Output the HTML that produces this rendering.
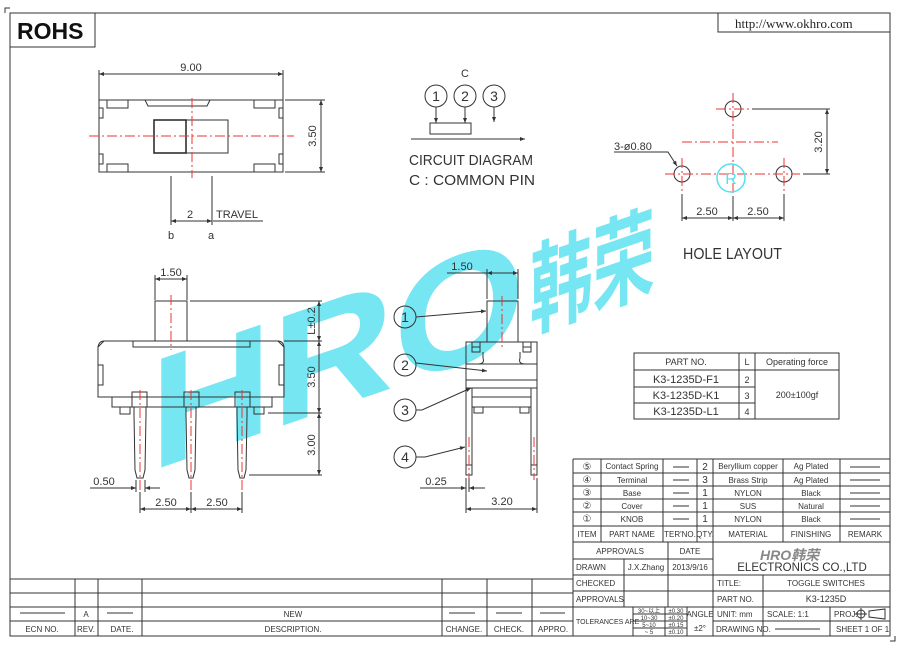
<!DOCTYPE html>
<html><head><meta charset="utf-8"><style>
html,body{margin:0;padding:0;background:#fff;}
svg{display:block;}
text{font-family:"Liberation Sans Narrow","Liberation Sans",sans-serif;fill:#333;}
.l{stroke:#333;stroke-width:1;fill:none;}
.r{stroke:#e33;stroke-width:1;fill:none;stroke-dasharray:10 3 2 3;}
.t{font-size:11px;}
.s{font-size:8px;}
</style></head><body>
<svg width="900" height="646" viewBox="0 0 900 646" xmlns="http://www.w3.org/2000/svg">
<defs>
<marker id="a" viewBox="0 0 10 10" refX="10" refY="5" markerWidth="7" markerHeight="5" orient="auto-start-reverse"><path d="M0,1 L10,5 L0,9 z" fill="#333"/></marker>
</defs>
<!-- watermark -->
<g transform="skewY(-19)" opacity="0.85">
<text x="150" y="523" style="font-family:'Liberation Sans',sans-serif;font-weight:bold;font-size:158px;fill:#5fe2f1" textLength="375" lengthAdjust="spacingAndGlyphs">HRO</text>
<text x="530" y="512" style="font-family:'Liberation Sans','Noto Sans CJK SC',sans-serif;font-weight:bold;font-size:100px;fill:#5fe2f1" textLength="125" lengthAdjust="spacingAndGlyphs">韩荣</text>
</g>
<!-- border -->
<rect x="10" y="13" width="880" height="623" class="l"/>
<path d="M5,13 V8 H10" class="l"/><path d="M890,641 H895 V636" class="l"/>
<rect x="10" y="13" width="85" height="34" class="l"/>
<text x="17" y="39" style="font-family:'Liberation Sans',sans-serif;font-weight:bold;font-size:23px;fill:#111">ROHS</text>
<rect x="718" y="13" width="172" height="19" class="l"/>
<text x="735" y="28" style="font-family:'Liberation Serif',serif;font-size:13px;fill:#222">http://www.okhro.com</text>

<!-- top view -->
<rect x="99" y="100" width="184" height="72" class="l"/>
<rect x="107" y="100" width="21" height="8" class="l"/><rect x="254" y="100" width="21" height="8" class="l"/>
<rect x="107" y="164" width="21" height="8" class="l"/><rect x="254" y="164" width="21" height="8" class="l"/>
<rect x="99" y="108" width="4" height="10" class="l"/><rect x="279" y="108" width="4" height="10" class="l"/>
<rect x="99" y="154" width="4" height="10" class="l"/><rect x="279" y="154" width="4" height="10" class="l"/>
<path d="M145,100 L148,106 H207 L210,100" class="l"/>
<rect x="154" y="120" width="74" height="33" class="l"/>
<rect x="154" y="120" width="32" height="33" style="stroke:#222;stroke-width:1.5;fill:none"/>
<line x1="89" y1="136" x2="294" y2="136" class="r"/>
<line x1="192" y1="98" x2="192" y2="178" class="r"/>
<line x1="99" y1="100" x2="99" y2="70" class="l"/><line x1="283" y1="100" x2="283" y2="70" class="l"/>
<line x1="99" y1="74" x2="283" y2="74" class="l" marker-start="url(#a)" marker-end="url(#a)"/>
<text x="191" y="71" class="t" text-anchor="middle">9.00</text>
<line x1="285" y1="100" x2="325" y2="100" class="l"/><line x1="285" y1="172" x2="325" y2="172" class="l"/>
<line x1="321" y1="100" x2="321" y2="172" class="l" marker-start="url(#a)" marker-end="url(#a)"/>
<text transform="translate(316,136) rotate(-90)" class="t" text-anchor="middle">3.50</text>
<line x1="171" y1="176" x2="171" y2="225" class="l"/><line x1="212" y1="176" x2="212" y2="225" class="l"/>
<line x1="171" y1="221" x2="212" y2="221" class="l" marker-start="url(#a)" marker-end="url(#a)"/>
<text x="190" y="218" class="t" text-anchor="middle">2</text>
<text x="216" y="218" class="t">TRAVEL</text><line x1="213" y1="221" x2="263" y2="221" class="l"/>
<text x="171" y="239" class="t" text-anchor="middle">b</text><text x="211" y="239" class="t" text-anchor="middle">a</text>

<!-- circuit -->
<text x="465" y="77" class="t" text-anchor="middle">C</text>
<circle cx="436" cy="96" r="11" class="l"/><circle cx="465" cy="96" r="11" class="l"/><circle cx="494" cy="96" r="11" class="l"/>
<text x="436" y="101" style="font-size:14px" text-anchor="middle">1</text>
<text x="465" y="101" style="font-size:14px" text-anchor="middle">2</text>
<text x="494" y="101" style="font-size:14px" text-anchor="middle">3</text>
<line x1="436" y1="107" x2="436" y2="123" class="l" marker-end="url(#a)"/>
<line x1="465" y1="107" x2="465" y2="123" class="l" marker-end="url(#a)"/>
<line x1="494" y1="107" x2="494" y2="122" class="l" marker-end="url(#a)"/>
<rect x="430" y="123" width="41" height="11" class="l"/>
<line x1="411" y1="139" x2="525" y2="139" class="l" marker-end="url(#a)"/>
<text x="409" y="165" style="font-size:15px" textLength="124" lengthAdjust="spacingAndGlyphs">CIRCUIT  DIAGRAM</text>
<text x="409" y="185" style="font-size:15px" textLength="126" lengthAdjust="spacingAndGlyphs">C : COMMON  PIN</text>

<!-- hole layout -->
<circle cx="733" cy="109" r="8" class="l"/><circle cx="682" cy="174" r="8" class="l"/><circle cx="784" cy="174" r="8" class="l"/>
<line x1="716" y1="109" x2="750" y2="109" class="r"/>
<line x1="733" y1="93" x2="733" y2="196" class="r"/>
<line x1="682" y1="142" x2="778" y2="142" class="r"/>
<line x1="665" y1="174" x2="800" y2="174" class="r"/>
<line x1="682" y1="158" x2="682" y2="192" class="r"/><line x1="784" y1="158" x2="784" y2="192" class="r"/>
<circle cx="731" cy="178" r="14" style="stroke:#55dff0;stroke-width:1.5;fill:none"/>
<text x="731" y="184" style="font-size:16px;fill:#55dff0" text-anchor="middle">R</text>
<line x1="752" y1="109" x2="830" y2="109" class="l"/><line x1="803" y1="174" x2="830" y2="174" class="l"/>
<line x1="827" y1="109" x2="827" y2="174" class="l" marker-start="url(#a)" marker-end="url(#a)"/>
<text transform="translate(822,142) rotate(-90)" class="t" text-anchor="middle">3.20</text>
<line x1="682" y1="194" x2="682" y2="221" class="l"/><line x1="733" y1="196" x2="733" y2="221" class="l"/><line x1="784" y1="194" x2="784" y2="221" class="l"/>
<line x1="682" y1="218" x2="733" y2="218" class="l" marker-start="url(#a)" marker-end="url(#a)"/>
<line x1="733" y1="218" x2="784" y2="218" class="l" marker-start="url(#a)" marker-end="url(#a)"/>
<text x="707" y="215" class="t" text-anchor="middle">2.50</text><text x="758" y="215" class="t" text-anchor="middle">2.50</text>
<text x="614" y="150" class="t">3-ø0.80</text>
<path d="M614,152 H668 L677,166" class="l" marker-end="url(#a)"/>
<text x="683" y="259" style="font-size:16px" textLength="99" lengthAdjust="spacingAndGlyphs">HOLE  LAYOUT</text>

<!-- side view -->
<rect x="155" y="301" width="32" height="40" class="l"/>
<path d="M104,341 H278 L284,347 V397 H98 V347 Z" class="l"/>
<path d="M104,341 Q99,341 98,347" class="l"/><path d="M278,341 Q283,341 284,347" class="l"/>
<rect x="98" y="365" width="5" height="20" class="l"/><rect x="279" y="365" width="5" height="20" class="l"/>
<path d="M133,341 V347 H250 V341" class="l"/>
<rect x="112" y="397" width="160" height="10" class="l"/>
<rect x="120" y="407" width="10" height="7" class="l"/><rect x="254" y="407" width="10" height="7" class="l"/>
<rect x="132" y="392" width="15" height="15" class="l"/><rect x="184" y="392" width="15" height="15" class="l"/><rect x="235" y="392" width="15" height="15" class="l"/>
<path d="M134,407 V415 L135,470 L137,478 H143 L145,470 L146,415 V407" class="l"/>
<path d="M186,407 V415 L187,470 L189,478 H193 L195,470 L196,415 V407" class="l"/>
<path d="M237,407 V415 L238,470 L240,478 H244 L246,470 L247,415 V407" class="l"/>
<line x1="171" y1="295" x2="171" y2="350" class="r"/>
<line x1="140" y1="390" x2="140" y2="490" class="r"/><line x1="191" y1="390" x2="191" y2="490" class="r"/><line x1="242" y1="390" x2="242" y2="490" class="r"/>
<line x1="155" y1="300" x2="155" y2="275" class="l"/><line x1="187" y1="300" x2="187" y2="275" class="l"/>
<line x1="155" y1="279" x2="187" y2="279" class="l" marker-start="url(#a)" marker-end="url(#a)"/>
<text x="171" y="276" class="t" text-anchor="middle">1.50</text>
<line x1="190" y1="301" x2="322" y2="301" class="l"/><line x1="284" y1="341" x2="322" y2="341" class="l"/>
<line x1="268" y1="413" x2="322" y2="413" class="l"/><line x1="249" y1="475" x2="322" y2="475" class="l"/>
<line x1="319" y1="301" x2="319" y2="341" class="l" marker-start="url(#a)" marker-end="url(#a)"/>
<line x1="319" y1="341" x2="319" y2="413" class="l" marker-start="url(#a)" marker-end="url(#a)"/>
<line x1="319" y1="413" x2="319" y2="475" class="l" marker-start="url(#a)" marker-end="url(#a)"/>
<text transform="translate(315,321) rotate(-90)" class="t" text-anchor="middle">L±0.2</text>
<text transform="translate(315,377) rotate(-90)" class="t" text-anchor="middle">3.50</text>
<text transform="translate(315,445) rotate(-90)" class="t" text-anchor="middle">3.00</text>
<line x1="136" y1="480" x2="136" y2="492" class="l"/><line x1="145" y1="480" x2="145" y2="492" class="l"/>
<line x1="90" y1="488" x2="136" y2="488" class="l" marker-end="url(#a)"/>
<line x1="160" y1="488" x2="145" y2="488" class="l" marker-end="url(#a)"/>
<text x="104" y="485" class="t" text-anchor="middle">0.50</text>
<line x1="140" y1="492" x2="140" y2="513" class="l"/><line x1="191" y1="492" x2="191" y2="513" class="l"/><line x1="242" y1="492" x2="242" y2="513" class="l"/>
<line x1="140" y1="509" x2="191" y2="509" class="l" marker-start="url(#a)" marker-end="url(#a)"/>
<line x1="191" y1="509" x2="242" y2="509" class="l" marker-start="url(#a)" marker-end="url(#a)"/>
<text x="166" y="506" class="t" text-anchor="middle">2.50</text><text x="217" y="506" class="t" text-anchor="middle">2.50</text>

<!-- front view -->
<rect x="487" y="301" width="31" height="41" class="l"/>
<rect x="466" y="342" width="71" height="46" class="l"/>
<rect x="466" y="364" width="71" height="16" class="l"/>
<path d="M472,342 V352 H480 V342 M472,347 H480" class="l"/>
<path d="M531,342 V352 H523 V342 M523,347 H531" class="l"/>
<path d="M483,352 V358 Q485,364 478,364" class="l"/><path d="M520,352 V358 Q518,364 525,364" class="l"/>
<rect x="472" y="388" width="59" height="19" class="l"/>
<line x1="472" y1="397" x2="531" y2="397" class="l"/>
<rect x="474" y="407" width="9" height="6" class="l"/><rect x="520" y="407" width="9" height="6" class="l"/>
<path d="M466,388 V475 H472 V388" class="l"/><path d="M531,388 V475 H537 V388" class="l"/>
<line x1="466" y1="465" x2="472" y2="465" class="l"/><line x1="531" y1="465" x2="537" y2="465" class="l"/>
<line x1="502" y1="296" x2="502" y2="350" class="r"/>
<line x1="469" y1="437" x2="469" y2="480" class="r"/><line x1="534" y1="437" x2="534" y2="480" class="r"/>
<line x1="487" y1="299" x2="487" y2="269" class="l"/><line x1="518" y1="299" x2="518" y2="269" class="l"/>
<line x1="447" y1="273" x2="487" y2="273" class="l"/>
<line x1="487" y1="273" x2="518" y2="273" class="l" marker-start="url(#a)" marker-end="url(#a)"/>
<text x="462" y="270" class="t" text-anchor="middle">1.50</text>
<circle cx="405" cy="317" r="11" class="l"/><circle cx="405" cy="365" r="11" class="l"/><circle cx="405" cy="410" r="11" class="l"/><circle cx="405" cy="457" r="11" class="l"/>
<text x="405" y="322" style="font-size:14px" text-anchor="middle">1</text>
<text x="405" y="370" style="font-size:14px" text-anchor="middle">2</text>
<text x="405" y="415" style="font-size:14px" text-anchor="middle">3</text>
<text x="405" y="462" style="font-size:14px" text-anchor="middle">4</text>
<line x1="416" y1="317" x2="486" y2="311" class="l" marker-end="url(#a)"/>
<line x1="416" y1="363" x2="487" y2="371" class="l" marker-end="url(#a)"/>
<path d="M416,410 H422 L471,388" class="l" marker-end="url(#a)"/>
<path d="M416,457 H425 L465,447" class="l" marker-end="url(#a)"/>
<line x1="466" y1="478" x2="466" y2="513" class="l"/><line x1="469" y1="478" x2="469" y2="492" class="l"/><line x1="537" y1="478" x2="537" y2="513" class="l"/>
<line x1="420" y1="488" x2="466" y2="488" class="l" marker-end="url(#a)"/>
<line x1="485" y1="488" x2="469" y2="488" class="l" marker-end="url(#a)"/>
<text x="436" y="485" class="t" text-anchor="middle">0.25</text>
<line x1="466" y1="509" x2="537" y2="509" class="l" marker-start="url(#a)" marker-end="url(#a)"/>
<text x="502" y="505" class="t" text-anchor="middle">3.20</text>

<!-- part table -->
<rect x="634" y="353" width="205" height="66" class="l"/>
<line x1="739" y1="353" x2="739" y2="419" class="l"/><line x1="755" y1="353" x2="755" y2="419" class="l"/>
<line x1="634" y1="370" x2="839" y2="370" class="l"/><line x1="634" y1="387" x2="755" y2="387" class="l"/><line x1="634" y1="403" x2="755" y2="403" class="l"/>
<text x="686" y="365" style="font-size:9px" text-anchor="middle">PART  NO.</text>
<text x="747" y="365" style="font-size:9px" text-anchor="middle">L</text>
<text x="797" y="365" style="font-size:9px" text-anchor="middle">Operating force</text>
<text x="686" y="383" class="t" text-anchor="middle">K3-1235D-F1</text><text x="747" y="383" style="font-size:9px" text-anchor="middle">2</text>
<text x="686" y="399" class="t" text-anchor="middle">K3-1235D-K1</text><text x="747" y="399" style="font-size:9px" text-anchor="middle">3</text>
<text x="686" y="415" class="t" text-anchor="middle">K3-1235D-L1</text><text x="747" y="415" style="font-size:9px" text-anchor="middle">4</text>
<text x="797" y="398" style="font-size:9px" text-anchor="middle">200±100gf</text>

<!-- BOM -->
<g class="l">
<line x1="573" y1="459" x2="890" y2="459"/><line x1="573" y1="473" x2="890" y2="473"/><line x1="573" y1="486" x2="890" y2="486"/>
<line x1="573" y1="499" x2="890" y2="499"/><line x1="573" y1="512" x2="890" y2="512"/><line x1="573" y1="526" x2="890" y2="526"/>
<line x1="573" y1="542" x2="890" y2="542"/>
<line x1="573" y1="459" x2="573" y2="636"/>
<line x1="601" y1="459" x2="601" y2="542"/><line x1="663" y1="459" x2="663" y2="542"/><line x1="697" y1="459" x2="697" y2="542"/>
<line x1="713" y1="459" x2="713" y2="636"/><line x1="783" y1="459" x2="783" y2="542"/><line x1="840" y1="459" x2="840" y2="542"/>
</g>
<g style="font-size:8px" text-anchor="middle">
<text x="587" y="470" style="font-family:'DejaVu Sans',sans-serif;font-size:10px">⑤</text>
<text x="587" y="483" style="font-family:'DejaVu Sans',sans-serif;font-size:10px">④</text>
<text x="587" y="496" style="font-family:'DejaVu Sans',sans-serif;font-size:10px">③</text>
<text x="587" y="509" style="font-family:'DejaVu Sans',sans-serif;font-size:10px">②</text>
<text x="587" y="522" style="font-family:'DejaVu Sans',sans-serif;font-size:10px">①</text>
<text x="587" y="537">ITEM</text>
<text x="632" y="469">Contact Spring</text><text x="632" y="483">Terminal</text><text x="632" y="496">Base</text><text x="632" y="509">Cover</text><text x="632" y="522">KNOB</text><text x="632" y="537">PART NAME</text>
<text x="680" y="537">TER'NO.</text>
<text x="705" y="470" style="font-size:10px">2</text><text x="705" y="483" style="font-size:10px">3</text><text x="705" y="496" style="font-size:10px">1</text><text x="705" y="509" style="font-size:10px">1</text><text x="705" y="522" style="font-size:10px">1</text><text x="705" y="537">QTY.</text>
<text x="748" y="469">Beryllium copper</text><text x="748" y="483">Brass Strip</text><text x="748" y="496">NYLON</text><text x="748" y="509">SUS</text><text x="748" y="522">NYLON</text><text x="748" y="537">MATERIAL</text>
<text x="811" y="469">Ag Plated</text><text x="811" y="483">Ag Plated</text><text x="811" y="496">Black</text><text x="811" y="509">Natural</text><text x="811" y="522">Black</text><text x="811" y="537">FINISHING</text>
<text x="865" y="537">REMARK</text>
</g>
<g class="l">
<line x1="673" y1="467" x2="689" y2="467"/><line x1="673" y1="480" x2="689" y2="480"/><line x1="673" y1="493" x2="689" y2="493"/><line x1="673" y1="506" x2="689" y2="506"/><line x1="673" y1="519" x2="689" y2="519"/>
<line x1="850" y1="467" x2="880" y2="467"/><line x1="850" y1="480" x2="880" y2="480"/><line x1="850" y1="493" x2="880" y2="493"/><line x1="850" y1="506" x2="880" y2="506"/><line x1="850" y1="519" x2="880" y2="519"/>
</g>

<!-- title block -->
<g class="l">
<line x1="573" y1="559" x2="713" y2="559"/><line x1="573" y1="575" x2="890" y2="575"/><line x1="573" y1="591" x2="890" y2="591"/><line x1="573" y1="607" x2="890" y2="607"/>
<line x1="713" y1="621" x2="890" y2="621"/>
<line x1="668" y1="542" x2="668" y2="607"/><line x1="624" y1="559" x2="624" y2="607"/>
<line x1="763" y1="575" x2="763" y2="636"/><line x1="830" y1="607" x2="830" y2="636"/>
<line x1="633" y1="607" x2="633" y2="636"/><line x1="665" y1="607" x2="665" y2="636"/><line x1="687" y1="607" x2="687" y2="636"/>
<line x1="633" y1="614" x2="687" y2="614"/><line x1="633" y1="621" x2="687" y2="621"/><line x1="633" y1="628" x2="687" y2="628"/>
<line x1="775" y1="629" x2="820" y2="629"/>
</g>
<g style="font-size:8px">
<text x="620" y="554" text-anchor="middle">APPROVALS</text><text x="690" y="554" text-anchor="middle">DATE</text>
<text x="576" y="570">DRAWN</text><text x="646" y="570" text-anchor="middle">J.X.Zhang</text><text x="690" y="570" text-anchor="middle">2013/9/16</text>
<text x="576" y="586">CHECKED</text><text x="576" y="602">APPROVALS</text>
<text x="576" y="624" style="font-size:7px">TOLERANCES  ARE</text>
<text x="649" y="613" style="font-size:6px" text-anchor="middle">30~以上</text><text x="676" y="613" style="font-size:6px" text-anchor="middle">±0.30</text>
<text x="649" y="620" style="font-size:6px" text-anchor="middle">10~30</text><text x="676" y="620" style="font-size:6px" text-anchor="middle">±0.20</text>
<text x="649" y="627" style="font-size:6px" text-anchor="middle">5~10</text><text x="676" y="627" style="font-size:6px" text-anchor="middle">±0.15</text>
<text x="649" y="634" style="font-size:6px" text-anchor="middle">~ 5</text><text x="676" y="634" style="font-size:6px" text-anchor="middle">±0.10</text>
<text x="700" y="617" text-anchor="middle">ANGLE</text><text x="700" y="631" text-anchor="middle">±2°</text>
<text x="717" y="586">TITLE:</text><text x="826" y="586" text-anchor="middle">TOGGLE  SWITCHES</text>
<text x="717" y="602">PART  NO.</text><text x="826" y="602" text-anchor="middle" style="font-size:9px">K3-1235D</text>
<text x="717" y="617">UNIT:  mm</text><text x="767" y="617">SCALE:   1:1</text><text x="834" y="617">PROJ:</text>
<text x="716" y="632">DRAWING  NO.</text><text x="836" y="632">SHEET   1  OF  1</text>
</g>
<circle cx="861" cy="614" r="4" class="l"/><line x1="855" y1="614" x2="867" y2="614" class="l"/><line x1="861" y1="608" x2="861" y2="620" class="l"/>
<path d="M869,611 L885,609 V619 L869,617 Z" class="l"/>
<text x="760" y="560" style="font-family:'Liberation Sans','Noto Sans CJK SC',sans-serif;font-style:italic;font-weight:bold;font-size:14px;fill:#888">HRO韩荣</text>
<text x="802" y="571" style="font-size:11.5px" text-anchor="middle">ELECTRONICS  CO.,LTD</text>

<!-- revision table -->
<g class="l">
<line x1="10" y1="579" x2="573" y2="579"/><line x1="10" y1="593" x2="573" y2="593"/><line x1="10" y1="607" x2="573" y2="607"/><line x1="10" y1="621" x2="573" y2="621"/>
<line x1="75" y1="579" x2="75" y2="636"/><line x1="98" y1="579" x2="98" y2="636"/><line x1="142" y1="579" x2="142" y2="636"/>
<line x1="442" y1="579" x2="442" y2="636"/><line x1="487" y1="579" x2="487" y2="636"/><line x1="532" y1="579" x2="532" y2="636"/>
<line x1="20" y1="613" x2="65" y2="613"/><line x1="107" y1="613" x2="133" y2="613"/>
<line x1="449" y1="613" x2="475" y2="613"/><line x1="496" y1="613" x2="522" y2="613"/><line x1="540" y1="613" x2="565" y2="613"/>
</g>
<g style="font-size:8px" text-anchor="middle">
<text x="86" y="617">A</text><text x="293" y="617">NEW</text>
<text x="42" y="632">ECN  NO.</text><text x="86" y="632">REV.</text><text x="122" y="632">DATE.</text>
<text x="293" y="632">DESCRIPTION.</text><text x="464" y="632">CHANGE.</text><text x="509" y="632">CHECK.</text><text x="553" y="632">APPRO.</text>
</g>
</svg>
</body></html>
